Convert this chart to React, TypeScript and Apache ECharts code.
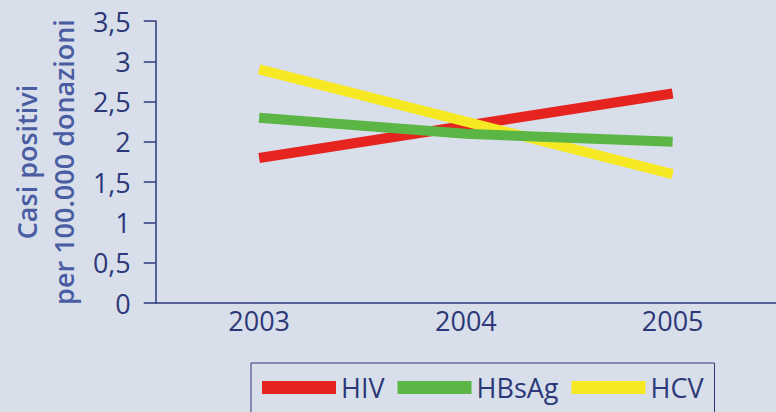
import React, { useEffect, useRef } from "react";
import * as echarts from "echarts";

// Anni e casi positivi per 100.000 donazioni
const years = ["2003", "2004", "2005"];
const hiv = [1.8, 2.2, 2.6];
const hbsag = [2.3, 2.1, 2.0];
const hcv = [2.9, 2.25, 1.6];
const yTicks = [0, 0.5, 1, 1.5, 2, 2.5, 3, 3.5];

const NAVY = "#2c3878";
const FONT = "'Open Sans', 'Noto Sans', sans-serif";

export default function App() {
  const ref = useRef<HTMLDivElement>(null);

  useEffect(() => {
    if (!ref.current) return;
    const chart = echarts.init(ref.current, undefined, { renderer: "svg" });
    chart.setOption({
      animation: false,
      backgroundColor: "#d8dfeb",
      textStyle: { fontFamily: FONT },
      grid: { left: 152, top: 21, right: -3, bottom: 109 },
      legend: {
        left: 251,
        top: 363,
        data: ["HIV", "HBsAg", "HCV"],
        icon: "rect",
        itemWidth: 74,
        itemHeight: 13,
        itemGap: 13,
        borderColor: NAVY,
        borderWidth: 1,
        padding: [11, 11, 14, 11],
        textStyle: { color: NAVY, fontSize: 27, fontFamily: FONT },
      },
      xAxis: {
        type: "category",
        data: years,
        boundaryGap: true,
        axisLine: { lineStyle: { color: NAVY, width: 1.5 } },
        axisTick: { length: 11, lineStyle: { color: NAVY, width: 1.5 } },
        axisLabel: { color: NAVY, fontSize: 27, margin: 4, fontFamily: FONT },
      },
      yAxis: {
        type: "value",
        min: yTicks[0],
        max: yTicks[yTicks.length - 1],
        interval: 0.5,
        name: "Casi positivi\nper 100.000 donazioni",
        nameLocation: "middle",
        nameRotate: 90,
        nameGap: 68,
        nameTextStyle: {
          color: "#4a5ca2",
          fontSize: 27,
          fontWeight: 600,
          lineHeight: 37,
          fontFamily: FONT,
        },
        axisLine: { show: true, lineStyle: { color: NAVY, width: 1.5 } },
        axisTick: { show: true, length: 12, lineStyle: { color: NAVY, width: 1.5 } },
        splitLine: { show: false },
        axisLabel: {
          color: NAVY,
          fontSize: 27,
          margin: 25,
          fontFamily: FONT,
          formatter: (v: number) => String(v).replace(".", ","),
        },
      },
      series: [
        {
          name: "HIV",
          type: "line",
          data: hiv,
          z: 2,
          symbol: "none",
          color: "#e5231f",
          lineStyle: { width: 10, cap: "butt", color: "#e5231f" },
        },
        {
          name: "HBsAg",
          type: "line",
          data: hbsag,
          z: 4,
          symbol: "none",
          color: "#5cb646",
          lineStyle: { width: 10, cap: "butt", color: "#5cb646" },
        },
        {
          name: "HCV",
          type: "line",
          data: hcv,
          z: 3,
          symbol: "none",
          color: "#f6e924",
          lineStyle: { width: 10, cap: "butt", color: "#f6e924" },
        },
      ],
    });
    return () => chart.dispose();
  }, []);

  return (
    <div
      ref={ref}
      style={{ position: "fixed", left: 0, top: 0, width: 776, height: 412 }}
    />
  );
}
